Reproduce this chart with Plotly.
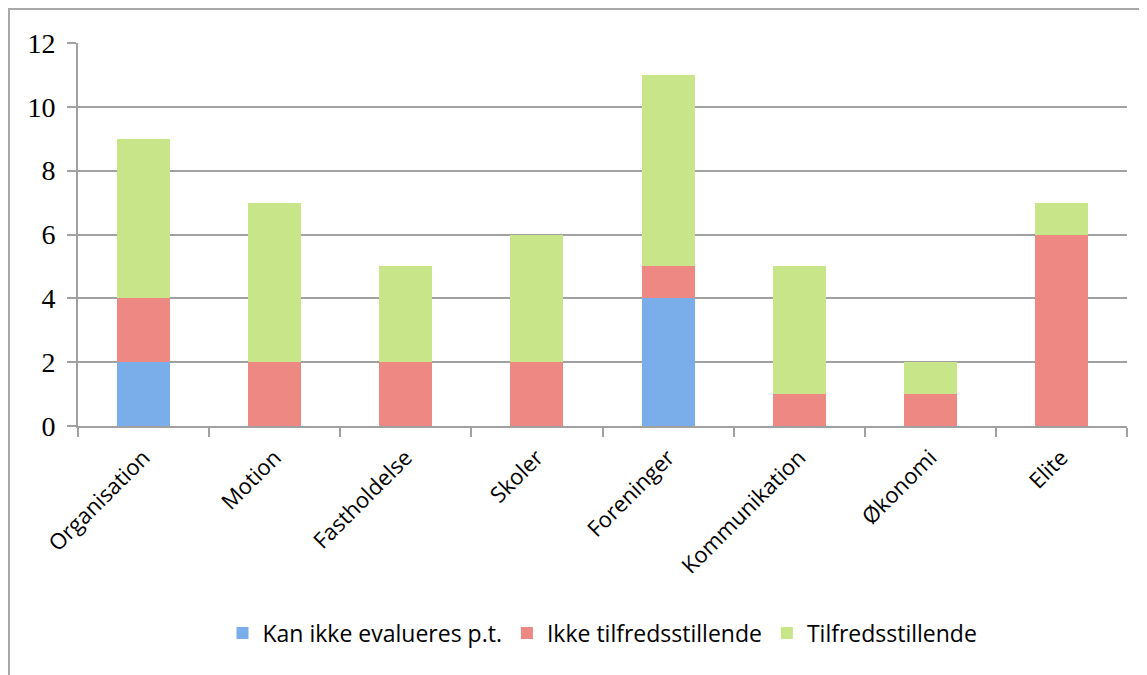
import plotly.graph_objects as go

categories = ["Organisation", "Motion", "Fastholdelse", "Skoler", "Foreninger",
              "Kommunikation", "Økonomi", "Elite"]
kan_ikke = [2, None, None, None, 4, None, None, None]
ikke_tilfreds = [2, 2, 2, 2, 1, 1, 1, 6]
tilfreds = [5, 5, 3, 4, 6, 4, 1, 1]
series_names = ["Kan ikke evalueres p.t.", "Ikke tilfredsstillende", "Tilfredsstillende"]
y_ticks = [0, 2, 4, 6, 8, 10, 12]

colors = ["#7aaeea", "#ee8882", "#c8e58a"]

fig = go.Figure()
for name, vals, col in zip(series_names, [kan_ikke, ikke_tilfreds, tilfreds], colors):
    fig.add_trace(go.Bar(x=categories, y=vals, name=name,
                         marker=dict(color=col, line=dict(width=0))))

W, H = 1147, 675
ml, mr, mt, mb = 70, 28, 35, 257
pw = W - ml - mr
ph = H - mt - mb

fig.update_layout(
    width=W, height=H,
    barmode="stack", bargap=0.595,
    margin=dict(l=ml, r=mr, t=mt, b=mb),
    plot_bgcolor="white", paper_bgcolor="white",
    font=dict(family="Open Sans", color="black"),
    showlegend=True,
    legend=dict(orientation="h", x=0.5, xanchor="center",
                y=-(625 - (H - mb)) / ph, yanchor="middle",
                font=dict(family="Open Sans", size=23, color="black"),
                itemwidth=30, traceorder="normal"),
    xaxis=dict(tickangle=-45, tickfont=dict(family="Open Sans", size=22, color="black"),
               showline=True, linecolor="#a0a0a0", linewidth=2,
               ticks="outside", ticklen=9, tickcolor="#a0a0a0", tickwidth=2,
               tickson="boundaries", showgrid=False, ticklabelstandoff=8),
    yaxis=dict(range=[0, 12], tickvals=y_ticks,
               tickfont=dict(family="Liberation Serif", size=28, color="black"),
               showline=True, linecolor="#a0a0a0", linewidth=2,
               ticks="outside", ticklen=9, tickcolor="#a0a0a0", tickwidth=2,
               showgrid=True, gridcolor="#a0a0a0", gridwidth=2, zeroline=False,
               ticklabelstandoff=6),
    shapes=[dict(type="rect", xref="paper", yref="paper",
                 x0=(1 - ml) / pw, x1=(W + 20 - ml) / pw,
                 y0=-(H + 20 - (H - mb)) / ph, y1=(H - mb - 1) / ph,
                 line=dict(color="#a8a8a8", width=2), layer="below")],
)

fig.write_html("out.html")
